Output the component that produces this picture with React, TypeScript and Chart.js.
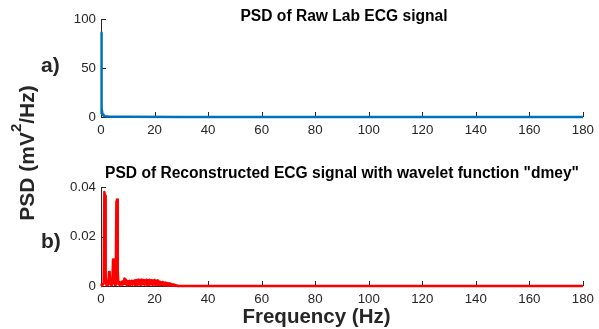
import { useEffect, useRef } from "react";
import { Chart, registerables } from "chart.js";

Chart.register(...registerables);

const W = 599;
const H = 329;
const FONT = "'Liberation Sans', Arial, Helvetica, sans-serif";
const AXIS = "#262626";
const BLUE = "#0072BD";
const RED = "#FF0000";

// Raw lab ECG PSD: large very-low-frequency component, nearly flat afterwards
const rawFreq = [0, 0.1, 0.2, 0.35, 0.5, 0.75, 1, 1.5, 2, 3, 5, 10, 30, 60, 120, 180];
const rawPsd = [3, 86, 40, 9, 4, 2.2, 1.4, 0.9, 0.6, 0.4, 0.3, 0.2, 0.1, 0.06, 0.04, 0.02];

// Reconstructed ECG ("dmey"): PSD bins every 0.25 Hz from 0 Hz
const reconBinHz = 0.25;
const reconPsd = [
  0.0000, 0.0006, 0.0002, 0.0009, 0.0030, 0.0380, 0.0365, 0.0040,
  0.0004, 0.0011, 0.0003, 0.0014, 0.0057, 0.0050, 0.0006, 0.0012,
  0.0003, 0.0018, 0.0107, 0.0104, 0.0010, 0.0004, 0.0016, 0.0340,
  0.0349, 0.0060, 0.0008, 0.0015, 0.0004, 0.0013, 0.0006, 0.0017,
  0.0005, 0.0019, 0.0008, 0.0030, 0.0026, 0.0007, 0.0021, 0.0004,
  0.0019, 0.0006, 0.0020, 0.0003, 0.0018, 0.0007, 0.0021, 0.0005,
  0.0019, 0.0008, 0.0022, 0.0004, 0.0023, 0.0006, 0.0024, 0.0005,
  0.0025, 0.0007, 0.0024, 0.0004, 0.0025, 0.0006, 0.0023, 0.0008,
  0.0024, 0.0005, 0.0022, 0.0007, 0.0025, 0.0004, 0.0023, 0.0006,
  0.0024, 0.0005, 0.0022, 0.0008, 0.0023, 0.0004, 0.0021, 0.0006,
  0.0024, 0.0005, 0.0020, 0.0007, 0.0022, 0.0004, 0.0019, 0.0005,
  0.0017, 0.0003, 0.0015, 0.0005, 0.0016, 0.0003, 0.0014, 0.0004,
  0.0013, 0.0002, 0.0012, 0.0004, 0.0011, 0.0002, 0.0010, 0.0003,
  0.0008, 0.0002, 0.0007, 0.0001, 0.0006, 0.0002, 0.0005, 0.0001,
  0.0003, 0.0001, 0.0001, 0.0000,
];
// Above ~29 Hz the reconstructed spectrum is empty
const reconTailFreq = [29, 180];
const reconTailPsd = [0, 0];

const freqTicks = [0, 20, 40, 60, 80, 100, 120, 140, 160, 180];
const rawTicks = [0, 50, 100];
const reconTicks = [0, 0.02, 0.04];

const titleA = "PSD of Raw Lab ECG signal";
const titleB = 'PSD of Reconstructed ECG signal with wavelet function "dmey"';
const yLabelMain = "PSD (mV";
const yLabelSup = "2";
const yLabelEnd = "/Hz)";
const xLabel = "Frequency (Hz)";

// Small tick marks pointing into the plot area
const inwardTicks = {
  id: "inwardTicks",
  beforeDatasetsDraw(chart: any) {
    const { ctx, chartArea, scales } = chart;
    const xs = scales.x;
    const ys = scales.y;
    ctx.save();
    ctx.strokeStyle = AXIS;
    ctx.lineWidth = 1;
    ctx.beginPath();
    xs.ticks.forEach((t: any) => {
      const px = Math.round(xs.getPixelForValue(t.value)) + 0.5;
      ctx.moveTo(px, chartArea.bottom);
      ctx.lineTo(px, chartArea.bottom - 5);
    });
    ys.ticks.forEach((t: any) => {
      const py = Math.round(ys.getPixelForValue(t.value)) + 0.5;
      ctx.moveTo(chartArea.left, py);
      ctx.lineTo(chartArea.left + 5, py);
    });
    ctx.stroke();
    ctx.restore();
  },
};

type Deco = { title: string; titleX: number; titleY: number; tag: string; tagY: number; extra?: (ctx: CanvasRenderingContext2D) => void };

const decorations = (d: Deco) => ({
  id: "decorations",
  afterDraw(chart: any) {
    const { ctx } = chart;
    ctx.save();
    ctx.fillStyle = "#000";
    ctx.font = `bold 15.6px ${FONT}`;
    ctx.textAlign = "center";
    ctx.textBaseline = "alphabetic";
    ctx.fillText(d.title, d.titleX, d.titleY);
    ctx.fillStyle = AXIS;
    ctx.font = `bold 21px ${FONT}`;
    ctx.textAlign = "left";
    ctx.fillText(d.tag, 41, d.tagY);
    if (d.extra) d.extra(ctx);
    ctx.restore();
  },
});

function drawYLabel(ctx: CanvasRenderingContext2D) {
  ctx.save();
  ctx.translate(33.5, 153);
  ctx.rotate(-Math.PI / 2);
  ctx.fillStyle = AXIS;
  ctx.textAlign = "left";
  const big = `bold 21px ${FONT}`;
  const small = `bold 15px ${FONT}`;
  ctx.font = big;
  const w1 = ctx.measureText(yLabelMain).width;
  const w3 = ctx.measureText(yLabelEnd).width;
  ctx.font = small;
  const w2 = ctx.measureText(yLabelSup).width;
  let x = -(w1 + w2 + w3) / 2;
  ctx.font = big;
  ctx.fillText(yLabelMain, x, 0);
  x += w1;
  ctx.font = small;
  ctx.fillText(yLabelSup, x, -13);
  x += w2;
  ctx.font = big;
  ctx.fillText(yLabelEnd, x, 0);
  ctx.restore();
}

function drawXLabel(ctx: CanvasRenderingContext2D) {
  ctx.fillStyle = AXIS;
  ctx.font = `bold 20.5px ${FONT}`;
  ctx.textAlign = "center";
  ctx.fillText(xLabel, 316.5, 322.5);
}

function makeScales(yMin: number, yMax: number, yTicks: number[]) {
  const tickFont = { family: FONT, size: 13.3 };
  return {
    x: {
      type: "linear",
      min: 0,
      max: 180,
      afterBuildTicks: (s: any) => {
        s.ticks = freqTicks.map((v) => ({ value: v }));
      },
      afterFit: (s: any) => {
        s.height = 28;
      },
      grid: { display: false, drawTicks: false },
      border: { display: true, color: AXIS, width: 1 },
      ticks: { font: tickFont, color: AXIS, padding: 5, maxRotation: 0, autoSkip: false, callback: (v: any) => String(v) },
    },
    y: {
      type: "linear",
      min: yMin,
      max: yMax,
      afterBuildTicks: (s: any) => {
        s.ticks = yTicks.map((v) => ({ value: v }));
      },
      afterFit: (s: any) => {
        s.width = 101;
      },
      grid: { display: false, drawTicks: false },
      border: { display: true, color: AXIS, width: 1 },
      ticks: { font: tickFont, color: AXIS, padding: 5, autoSkip: false, callback: (v: any) => String(v) },
    },
  };
}

export default function App() {
  const topRef = useRef<HTMLCanvasElement>(null);
  const botRef = useRef<HTMLCanvasElement>(null);

  useEffect(() => {
    const rawData = rawFreq.map((f, i) => ({ x: f, y: rawPsd[i] }));
    const reconData = reconPsd
      .map((v, i) => ({ x: i * reconBinHz, y: v }))
      .concat(reconTailFreq.map((f, i) => ({ x: f, y: reconTailPsd[i] })));

    const common = {
      responsive: false,
      animation: false,
      devicePixelRatio: 1,
      events: [],
    };

    const top = new Chart(topRef.current!, {
      type: "line",
      data: {
        datasets: [
          {
            data: rawData,
            borderColor: BLUE,
            borderWidth: 2.5,
            borderJoinStyle: "round",
            pointRadius: 0,
            tension: 0,
            clip: false,
          },
        ],
      },
      options: {
        ...common,
        layout: { padding: { top: 19, right: 12, bottom: H - 117 - 28, left: 0 } },
        plugins: { legend: { display: false }, tooltip: { enabled: false } },
        scales: makeScales(0, 100, rawTicks),
      } as any,
      plugins: [
        inwardTicks,
        decorations({ title: titleA, titleX: 344, titleY: 20.5, tag: "a)", tagY: 72, extra: drawYLabel }),
      ],
    });

    const bottom = new Chart(botRef.current!, {
      type: "line",
      data: {
        datasets: [
          {
            data: reconData,
            borderColor: RED,
            borderWidth: 2.5,
            borderJoinStyle: "round",
            pointRadius: 0,
            tension: 0,
            clip: false,
          },
        ],
      },
      options: {
        ...common,
        layout: { padding: { top: 187, right: 12, bottom: H - 286 - 28, left: 0 } },
        plugins: { legend: { display: false }, tooltip: { enabled: false } },
        scales: makeScales(0, 0.04, reconTicks),
      } as any,
      plugins: [
        inwardTicks,
        decorations({ title: titleB, titleX: 342, titleY: 178, tag: "b)", tagY: 247.5, extra: drawXLabel }),
      ],
    });

    return () => {
      top.destroy();
      bottom.destroy();
    };
  }, []);

  const canvasStyle: React.CSSProperties = { position: "absolute", left: 0, top: 0, width: W, height: H };
  return (
    <div style={{ position: "absolute", left: 0, top: 0, width: W, height: H, background: "#fff" }}>
      <canvas ref={topRef} width={W} height={H} style={canvasStyle} />
      <canvas ref={botRef} width={W} height={H} style={canvasStyle} />
    </div>
  );
}
